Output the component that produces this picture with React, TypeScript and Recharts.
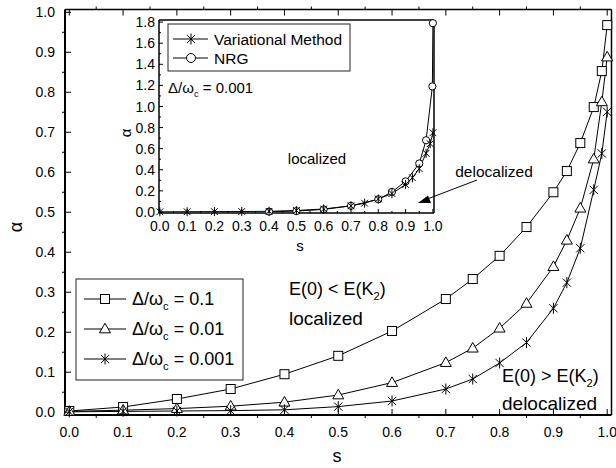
import { ComposedChart, LineChart, Line, XAxis, YAxis } from 'recharts'

const FONT = '"Liberation Sans", Arial, Helvetica, sans-serif'

// main panel: alpha vs s for three values of Delta/omega_c
const sPoints = [0, 0.1, 0.2, 0.3, 0.4, 0.5, 0.6, 0.7, 0.75, 0.8, 0.85, 0.9, 0.925, 0.95, 0.975, 0.99, 1.0]
const alphaD01 = [0.003, 0.013, 0.033, 0.058, 0.095, 0.141, 0.203, 0.283, 0.333, 0.391, 0.463, 0.55, 0.603, 0.673, 0.763, 0.853, 0.968]
const alphaD001 = [0.002, 0.005, 0.009, 0.015, 0.025, 0.043, 0.074, 0.124, 0.16, 0.21, 0.272, 0.364, 0.43, 0.51, 0.633, 0.776, 0.888]
const alphaD0001 = [0.001, 0.002, 0.003, 0.004, 0.006, 0.014, 0.028, 0.058, 0.083, 0.123, 0.174, 0.26, 0.324, 0.41, 0.556, 0.647, 0.751]

// inset: NRG comparison at Delta/omega_c = 0.001
const nrgS = [0.4, 0.5, 0.6, 0.7, 0.8, 0.85, 0.9, 0.95, 0.975, 0.998, 1.0]
const nrgAlpha = [0.003, 0.008, 0.024, 0.058, 0.12, 0.19, 0.29, 0.46, 0.68, 1.19, 1.79]

const mainTicks = [0, 0.05, 0.1, 0.15, 0.2, 0.25, 0.3, 0.35, 0.4, 0.45, 0.5, 0.55, 0.6, 0.65, 0.7, 0.75, 0.8, 0.85, 0.9, 0.95, 1.0]
const insetYTicks = [0, 0.1, 0.2, 0.3, 0.4, 0.5, 0.6, 0.7, 0.8, 0.9, 1.0, 1.1, 1.2, 1.3, 1.4, 1.5, 1.6, 1.7, 1.8]
const legendLabels = ['0.1', '0.01', '0.001']

const mainRows = sPoints.map((s, i) => ({ s, a1: alphaD01[i], a2: alphaD001[i], a3: alphaD0001[i] }))
const varRows = sPoints.map((s, i) => ({ s, a: alphaD0001[i] }))
const nrgRows = nrgS.map((s, i) => ({ s, a: nrgAlpha[i] }))

function Square({ cx, cy, size = 9 }: any) {
  return <rect x={cx - size / 2} y={cy - size / 2} width={size} height={size} fill="#fff" stroke="#000" strokeWidth={1} />
}

function Triangle({ cx, cy, size = 11 }: any) {
  const h = size * 0.87
  return (
    <polygon
      points={`${cx},${cy - h * 0.6} ${cx - size / 2},${cy + h * 0.4} ${cx + size / 2},${cy + h * 0.4}`}
      fill="#fff" stroke="#000" strokeWidth={1}
    />
  )
}

function Star({ cx, cy, r = 5.5 }: any) {
  const d = r * 0.75
  return (
    <path
      d={`M${cx},${cy - r}L${cx},${cy + r}M${cx - d},${cy - d}L${cx + d},${cy + d}M${cx - d},${cy + d}L${cx + d},${cy - d}`}
      stroke="#000" strokeWidth={1} fill="none"
    />
  )
}

function Circle({ cx, cy, r = 3.6 }: any) {
  return <circle cx={cx} cy={cy} r={r} fill="#fff" stroke="#000" strokeWidth={1} />
}

const dirs: Record<string, [number, number]> = { bottom: [0, -1], top: [0, 1], left: [1, 0], right: [-1, 0] }

function makeTick(side: string, every: number, majorLen: number, minorLen: number, label = false, fs = 14, gap = 10) {
  return (p: any) => {
    const v = p.payload.value as number
    const major = Math.abs(v / every - Math.round(v / every)) < 1e-6
    const [dx, dy] = dirs[side]
    const len = major ? majorLen : minorLen
    let text = null
    if (major && label) {
      if (side === 'bottom')
        text = <text x={p.x} y={p.y + gap} textAnchor="middle" fontSize={fs} fontFamily={FONT} fill="#000">{v.toFixed(1)}</text>
      else
        text = <text x={p.x - gap} y={p.y + fs * 0.36} textAnchor="end" fontSize={fs} fontFamily={FONT} fill="#000">{v.toFixed(1)}</text>
    }
    return (
      <g key={`${side}-${p.index}`}>
        <line x1={p.x} y1={p.y} x2={p.x + dx * len} y2={p.y + dy * len} stroke="#000" strokeWidth={1} />
        {text}
      </g>
    )
  }
}

function DeltaLabel({ x, y, fs, value }: any) {
  return (
    <text x={x} y={y} fontSize={fs} fontFamily={FONT} fill="#000">
      Δ/ω<tspan dy={fs * 0.28} fontSize={fs * 0.62}>c</tspan><tspan dy={-fs * 0.28}> = {value}</tspan>
    </text>
  )
}

function EnergyLabel({ x, y, fs, op }: any) {
  return (
    <text x={x} y={y} fontSize={fs} fontFamily={FONT} fill="#000">
      E(0) {op} E(K<tspan dy={fs * 0.28} fontSize={fs * 0.62}>2</tspan><tspan dy={-fs * 0.28}>)</tspan>
    </text>
  )
}

const legendShapes = [Square, Triangle, Star]

const axisBase = { type: 'number' as const, interval: 0 as const, tickSize: 0, tickMargin: 0, tickLine: false }

export default function App() {
  return (
    <div style={{ position: 'absolute', left: 0, top: 0, width: 616, height: 468, background: '#fff' }}>
      <div style={{ position: 'absolute', left: 0, top: 0 }}>
        <ComposedChart width={616} height={468} data={mainRows} margin={{ top: 8.5, right: 3.5, bottom: 52, left: 64 }}>
          <XAxis xAxisId="b" dataKey="s" domain={[-0.008, 1.008]} ticks={mainTicks} height={1} {...axisBase}
            axisLine={{ stroke: '#000', strokeWidth: 2 }}
            tick={makeTick('bottom', 0.1, 6, -3, true, 14, 22)} />
          <XAxis xAxisId="t" orientation="top" dataKey="s" domain={[-0.008, 1.008]} ticks={mainTicks} height={1} {...axisBase}
            axisLine={{ stroke: '#000', strokeWidth: 1.5 }}
            tick={makeTick('top', 0.1, 6, -3)} />
          <YAxis yAxisId="l" domain={[-0.007, 1.007]} ticks={mainTicks} width={1} {...axisBase}
            axisLine={{ stroke: '#000', strokeWidth: 2 }}
            tick={makeTick('left', 0.1, 6, -3, true, 14, 10)} />
          <YAxis yAxisId="r" orientation="right" domain={[-0.007, 1.007]} ticks={mainTicks} width={1} {...axisBase}
            axisLine={{ stroke: '#000', strokeWidth: 1.5 }}
            tick={makeTick('right', 0.1, 6, -3)} />
          <Line xAxisId="b" yAxisId="l" type="linear" dataKey="a1" stroke="#000" strokeWidth={1} isAnimationActive={false}
            activeDot={false} dot={(p: any) => <Square key={`sq${p.index}`} cx={p.cx} cy={p.cy} />} />
          <Line xAxisId="b" yAxisId="l" type="linear" dataKey="a2" stroke="#000" strokeWidth={1} isAnimationActive={false}
            activeDot={false} dot={(p: any) => <Triangle key={`tr${p.index}`} cx={p.cx} cy={p.cy} />} />
          <Line xAxisId="b" yAxisId="l" type="linear" dataKey="a3" stroke="#000" strokeWidth={1} isAnimationActive={false}
            activeDot={false} dot={(p: any) => <Star key={`st${p.index}`} cx={p.cx} cy={p.cy} />} />
        </ComposedChart>
      </div>

      <div style={{ position: 'absolute', left: 0, top: 0 }}>
        <LineChart width={450} height={260} margin={{ top: 19, right: 15, bottom: 46, left: 158 }}>
          <XAxis xAxisId="b" dataKey="s" domain={[-0.003, 1.004]} ticks={mainTicks} height={1} {...axisBase}
            axisLine={{ stroke: '#000', strokeWidth: 1.5 }}
            tick={makeTick('bottom', 0.1, 4, 2, true, 14, 18)} />
          <XAxis xAxisId="t" orientation="top" dataKey="s" domain={[-0.003, 1.004]} ticks={mainTicks} height={1} {...axisBase}
            axisLine={{ stroke: '#000', strokeWidth: 1.5 }}
            tick={makeTick('top', 0.1, 4, 2)} />
          <YAxis yAxisId="l" domain={[-0.01, 1.82]} ticks={insetYTicks} width={1} {...axisBase}
            axisLine={{ stroke: '#000', strokeWidth: 1.5 }}
            tick={makeTick('left', 0.2, 4, 2, true, 14, 4)} />
          <YAxis yAxisId="r" orientation="right" domain={[-0.01, 1.82]} ticks={insetYTicks} width={1} {...axisBase}
            axisLine={{ stroke: '#000', strokeWidth: 1.5 }}
            tick={makeTick('right', 0.2, 4, 2)} />
          <Line xAxisId="b" yAxisId="l" data={nrgRows} type="linear" dataKey="a" stroke="#000" strokeWidth={1}
            isAnimationActive={false} activeDot={false}
            dot={(p: any) => <Circle key={`c${p.index}`} cx={p.cx} cy={p.cy} />} />
          <Line xAxisId="b" yAxisId="l" data={varRows} type="linear" dataKey="a" stroke="#000" strokeWidth={1}
            isAnimationActive={false} activeDot={false}
            dot={(p: any) => <Star key={`v${p.index}`} cx={p.cx} cy={p.cy} r={4.5} />} />
        </LineChart>
      </div>

      <svg width={616} height={468} style={{ position: 'absolute', left: 0, top: 0, pointerEvents: 'none' }}>
        {/* axis titles */}
        <text x={16} y={227} transform="rotate(-90 16 227)" textAnchor="middle" dominantBaseline="central" fontSize={18} fontFamily={FONT}>α</text>
        <text x={337} y={462} textAnchor="middle" fontSize={18} fontFamily={FONT}>s</text>
        <text x={125} y={133} transform="rotate(-90 125 133)" textAnchor="middle" dominantBaseline="central" fontSize={15} fontFamily={FONT}>α</text>
        <text x={300} y={251} textAnchor="middle" fontSize={15} fontFamily={FONT}>s</text>

        {/* main legend */}
        <rect x={76} y={279} width={167} height={101} fill="none" stroke="#222" strokeWidth={1} />
        {legendLabels.map((lab, i) => {
          const cy = 299 + i * 30
          const Shape = legendShapes[i]
          return (
            <g key={lab}>
              <line x1={84} x2={126} y1={cy} y2={cy} stroke="#000" strokeWidth={1} />
              <Shape cx={105} cy={cy} />
              <DeltaLabel x={132} y={cy + 6} fs={18} value={lab} />
            </g>
          )
        })}

        {/* inset legend */}
        <rect x={168} y={24} width={182} height={47} fill="#fff" stroke="#222" strokeWidth={1} />
        <line x1={173} x2={208} y1={39} y2={39} stroke="#000" strokeWidth={1} />
        <Star cx={191} cy={39} r={5.5} />
        <text x={214} y={45} fontSize={15.5} fontFamily={FONT}>Variational Method</text>
        <line x1={173} x2={208} y1={58} y2={58} stroke="#000" strokeWidth={1} />
        <Circle cx={191} cy={58} r={4.5} />
        <text x={214} y={64} fontSize={15.5} fontFamily={FONT}>NRG</text>

        <DeltaLabel x={168} y={93} fs={15} value="0.001" />
        <text x={317} y={164} textAnchor="middle" fontSize={15} fontFamily={FONT}>localized</text>

        {/* arrow annotation */}
        <text x={494} y={177} textAnchor="middle" fontSize={15.5} fontFamily={FONT}>delocalized</text>
        <line x1={477} y1={180} x2={426} y2={199.5} stroke="#000" strokeWidth={1} />
        <polygon points="418,203 428,195.5 431,203" fill="#000" />

        <EnergyLabel x={289} y={295} fs={18} op="<" />
        <text x={289} y={325} fontSize={19} fontFamily={FONT}>localized</text>
        <EnergyLabel x={502} y={382} fs={18} op=">" />
        <text x={502} y={410} fontSize={19} fontFamily={FONT}>delocalized</text>
      </svg>
    </div>
  )
}
